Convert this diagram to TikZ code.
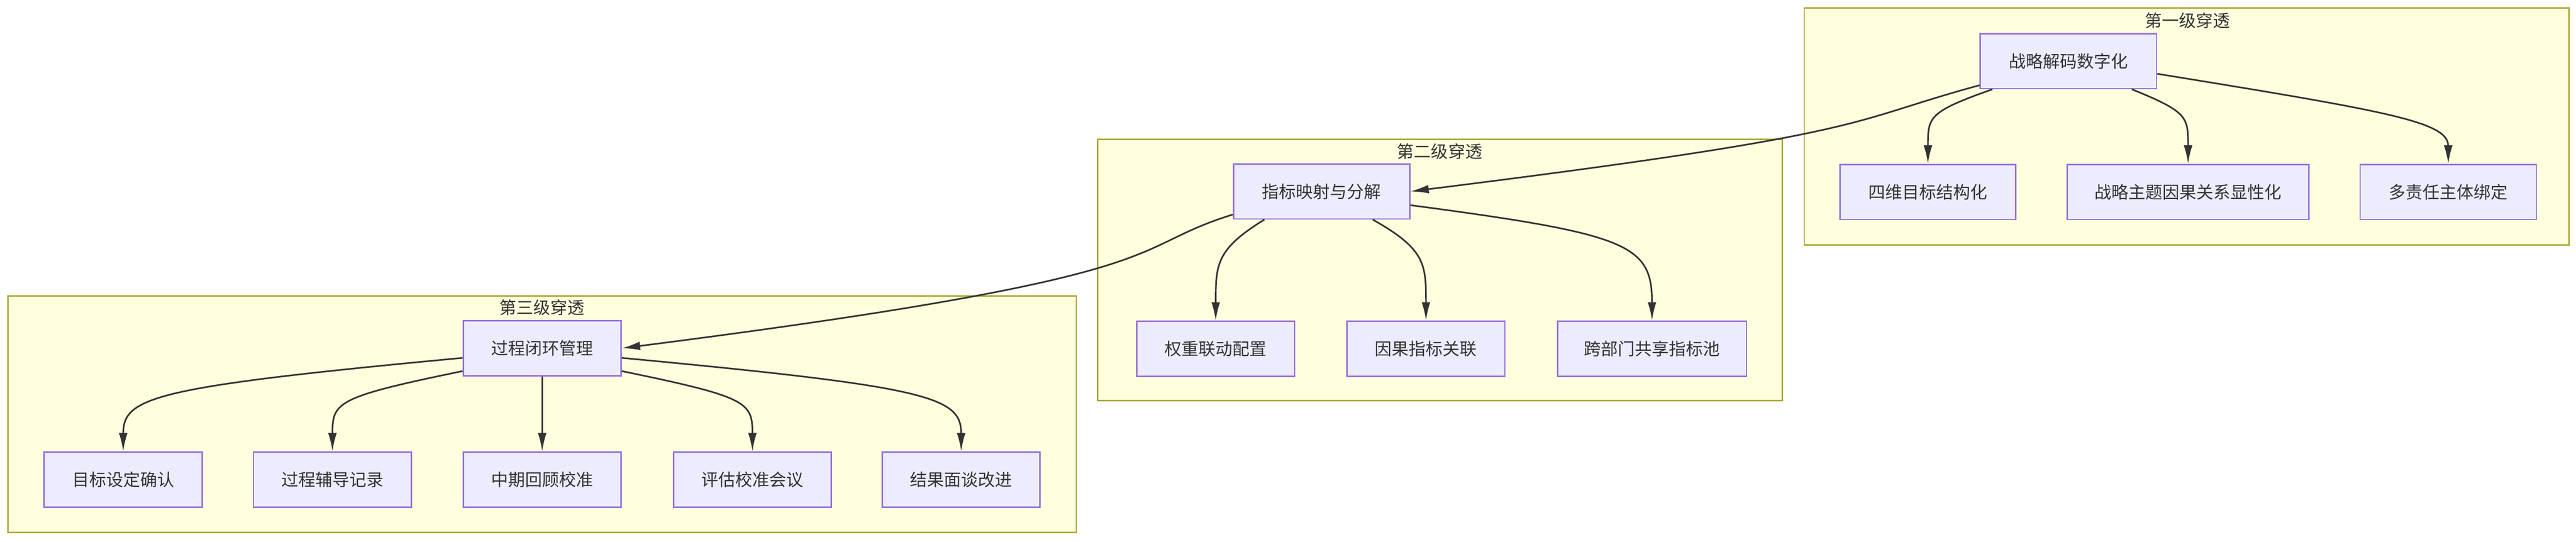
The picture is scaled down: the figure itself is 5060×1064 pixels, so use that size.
\documentclass[tikz,border=0pt]{standalone}
\usepackage{fontspec}
\setmainfont{Noto Sans CJK SC}
\usetikzlibrary{arrows.meta,calc}
\definecolor{clfill}{HTML}{FFFFDE}
\definecolor{cldraw}{HTML}{AAAA33}
\definecolor{ndfill}{HTML}{ECECFF}
\definecolor{nddraw}{HTML}{9370DB}
\definecolor{edge}{HTML}{333333}
\begin{document}
\begin{tikzpicture}[x=0.01cm, y=-0.01cm,
    font=\fontsize{9.5}{11}\selectfont,
    cl/.style = {draw=cldraw, fill=clfill, line width=0.8pt},
    tt/.style = {text=black!80},
    nd/.style = {draw=nddraw, fill=ndfill, line width=0.8pt, minimum height=1.08cm, inner sep=0pt, text=black!80},
    ar/.style = {draw=edge, line width=0.9pt, -{Latex[length=3.6mm,width=1.7mm]}}]
    \useasboundingbox (0,0) rectangle (5060,1064);
    % clusters
    \draw[cl] (3544,16) rectangle (5046,481);
    \draw[cl] (2156,274) rectangle (3501,787);
    \draw[cl] (16,581) rectangle (2114,1046);
    \node[tt] (t1) at (4297,40) {第一级穿透};
    \node[tt] (t2) at (2828,297) {第二级穿透};
    \node[tt] (t3) at (1065,604) {第三级穿透};
    % level 1
    \node[nd, minimum width=3.46cm] (s1) at (4063,120) {战略解码数字化};
    \node[nd, minimum width=3.45cm] (c11) at (3787,377) {四维目标结构化};
    \node[nd, minimum width=4.74cm] (c12) at (4298,377) {战略主题因果关系显性化};
    \node[nd, minimum width=3.46cm] (c13) at (4809,377) {多责任主体绑定};
    % level 2
    \node[nd, minimum width=3.46cm] (s2) at (2596,376) {指标映射与分解};
    \node[nd, minimum width=3.10cm] (c21) at (2388,685) {权重联动配置};
    \node[nd, minimum width=3.10cm] (c22) at (2801,685) {因果指标关联};
    \node[nd, minimum width=3.71cm] (c23) at (3245,685) {跨部门共享指标池};
    % level 3
    \node[nd, minimum width=3.10cm] (s3) at (1065,684) {过程闭环管理};
    \node[nd, minimum width=3.10cm] (c31) at (242,942) {目标设定确认};
    \node[nd, minimum width=3.10cm] (c32) at (653,942) {过程辅导记录};
    \node[nd, minimum width=3.10cm] (c33) at (1065,942) {中期回顾校准};
    \node[nd, minimum width=3.10cm] (c34) at (1478,942) {评估校准会议};
    \node[nd, minimum width=3.10cm] (c35) at (1888,942) {结果面谈改进};
    % edges level 1
    \draw[ar] ($(s1.south west)+(25,0)$) .. controls (3787,220) and (3787,230) .. (c11.north);
    \draw[ar] ($(s1.south east)+(-50,0)$) .. controls (4298,220) and (4298,230) .. (c12.north);
    \draw[ar] ($(s1.east)+(0,25)$) .. controls (4700,220) and (4809,240) .. (c13.north);
    \draw[ar] ($(s1.south west)+(0,-8)$) .. controls (3620,240) and (3700,260) .. (s2.east);
    % edges level 2
    \draw[ar] ($(s2.south west)+(62,0)$) .. controls (2388,490) and (2388,520) .. (c21.north);
    \draw[ar] ($(s2.south east)+(-74,0)$) .. controls (2801,490) and (2801,520) .. (c22.north);
    \draw[ar] ($(s2.east)+(0,27)$) .. controls (3200,460) and (3245,480) .. (c23.north);
    \draw[ar] ($(s2.south west)+(0,-10)$) .. controls (2200,490) and (2350,540) .. (s3.east);
    % edges level 3
    \draw[ar] ($(s3.west)+(0,19)$) .. controls (300,760) and (242,780) .. (c31.north);
    \draw[ar] ($(s3.west)+(0,45)$) .. controls (660,780) and (653,790) .. (c32.north);
    \draw[ar] (s3.south) -- (c33.north);
    \draw[ar] ($(s3.east)+(0,45)$) .. controls (1470,780) and (1478,790) .. (c34.north);
    \draw[ar] ($(s3.east)+(0,19)$) .. controls (1830,760) and (1888,780) .. (c35.north);
\end{tikzpicture}
\end{document}
